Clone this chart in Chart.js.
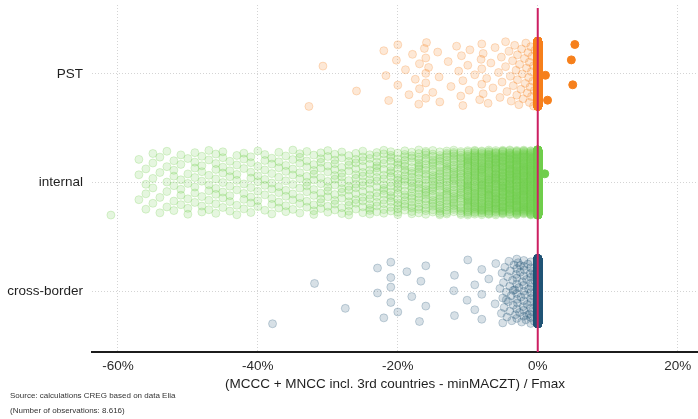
<!DOCTYPE html>
<html>
<head>
<meta charset="utf-8">
<script src="https://cdn.jsdelivr.net/npm/chart.js@4.4.1/dist/chart.umd.min.js"></script>
<style>
  body { margin: 0; background: #fff; }
  #wrap { position: relative; width: 698px; height: 419px; }
  #stripChart { display: block; }
  .note {
    position: absolute;
    left: 10px;
    font: 8px 'Liberation Sans', Arial, sans-serif;
    line-height: 10px;
    color: #333;
    white-space: nowrap;
  }
</style>
</head>
<body>
<div id="wrap">
  <canvas id="stripChart" width="698" height="419"></canvas>
  <div class="note" style="top:391px">Source: calculations CREG based on data Elia</div>
  <div class="note" id="obsCount" style="top:406px"></div>
</div>
<script>
// rows from bottom to top
const categories = ['cross-border', 'internal', 'PST'];
const xTicks = [-60, -40, -20, 0, 20];

// non-zero observations, in %
const pstValues = [
  -32.7, -30.7, -25.9, -22.0, -21.7, -21.3, -20.2, -20.0, -20.0, -18.9,
  -18.4, -17.9, -17.5, -17.0, -16.9, -16.9, -16.2, -16.0, -16.0, -16.0,
  -16.0, -15.9, -15.6, -15.0, -14.3, -14.1, -14.0, -12.8, -12.4, -11.6,
  -11.3, -11.0, -10.9, -10.7, -10.7, -10.0, -9.8, -9.7, -9.0, -8.3,
  -8.1, -8.0, -8.0, -8.0, -7.8, -7.8, -7.3, -7.1, -6.7, -6.4,
  -6.1, -5.6, -5.4, -5.2, -5.1, -4.6, -4.6, -4.4, -4.1, -3.9,
  -3.8, -3.6, -3.5, -3.3, -3.1, -3.0, -2.9, -2.9, -2.7, -2.6,
  -2.4, -2.3, -2.2, -2.1, -1.9, -1.8, -1.7, -1.6, -1.5, -1.4,
  -1.3, -1.2, -1.2, -1.1, -1.0, -0.9, -0.9, -0.8, -0.7, -0.6,
  -0.6, -0.5, -0.4,
  1.1, 1.4, 4.8, 5.0, 5.3
];

const crossBorderValues = [
  -37.9, -31.9, -27.5, -22.9, -22.9, -22.0, -21.0, -21.0, -21.0, -21.0,
  -20.0, -18.7, -18.0, -16.9, -16.7, -16.0, -16.0, -12.0, -11.9, -11.9,
  -10.1, -10.0, -9.0, -9.0, -8.0, -8.0, -8.0, -7.0, -6.1, -6.0,
  -5.4, -5.2, -5.1, -5.0, -5.0, -4.9, -4.8, -4.7, -4.5, -4.4,
  -4.3, -4.2, -4.1, -4.0, -4.0, -3.9, -3.8, -3.7, -3.6, -3.5,
  -3.4, -3.3, -3.2, -3.1, -3.0, -3.0, -3.0, -3.0, -3.0, -3.0,
  -3.0, -3.0, -2.9, -2.8, -2.7, -2.6, -2.5, -2.4, -2.3, -2.2,
  -2.1, -2.0, -2.0, -2.0, -2.0, -2.0, -2.0, -2.0, -2.0, -1.9,
  -1.8, -1.7, -1.6, -1.5, -1.4, -1.3, -1.2, -1.1, -1.0, -1.0,
  -1.0, -1.0, -1.0, -1.0, -1.0, -1.0, -1.0, -1.0, -0.9, -0.8,
  -0.7, -0.6, -0.5, -0.4, -0.3, -2.5, -3.5, -1.5, -0.5, -4.5
];

// internal elements: values come in whole percent, so kept as a frequency table
const internalLevels = [
  -61,
  -57, -56, -55, -54, -53, -52, -51, -50, -49, -48, -47, -46, -45, -44, -43, -42, -41,
  -40, -39, -38, -37, -36, -35, -34, -33, -32, -31, -30, -29, -28, -27, -26, -25, -24, -23, -22, -21,
  -20, -19, -18, -17, -16, -15, -14, -13, -12, -11,
  -10, -9, -8, -7, -6, -5, -4, -3, -2, -1,
  1
];
const internalCounts = [
  1,
  3, 4, 5, 4, 5, 6, 6, 6, 7, 7, 7, 8, 8, 7, 7, 7, 8,
  7, 7, 8, 8, 8, 8, 9, 9, 10, 10, 10, 11, 11, 12, 12, 13, 14, 14, 15, 16,
  18, 19, 20, 22, 23, 25, 27, 29, 31, 33,
  50, 54, 58, 62, 66, 70, 75, 80, 85, 90,
  1
];

// hours with exactly 0 %, same order as categories
const zeroCounts = [2762, 1616, 2774];

const FONT = "'Liberation Sans', Arial, sans-serif";
const palette = {
  'cross-border': [33, 84, 118],
  'internal': [112, 206, 76],
  'PST': [246, 128, 28]
};

function rgba(c, a) {
  return 'rgba(' + c[0] + ', ' + c[1] + ', ' + c[2] + ', ' + a + ')';
}

// spread points vertically inside their row (deterministic, like a jitter)
function jitter(k) {
  return ((k * 0.6180339887) % 1 - 0.5) * 0.6;
}

const observations = {
  'cross-border': crossBorderValues,
  'internal': internalLevels.flatMap((v, i) => Array(internalCounts[i]).fill(v)),
  'PST': pstValues
};

const datasets = [];
let total = 0;
categories.forEach((cat, ci) => {
  const values = observations[cat].concat(Array(zeroCounts[ci]).fill(0));
  total += values.length;
  const below = [], atOrAbove = [];
  values.forEach((v, k) => {
    const pt = { x: v, y: ci + 1 + jitter(k) };
    (v < 0 ? below : atOrAbove).push(pt);
  });
  const c = palette[cat];
  datasets.push({
    label: cat,
    data: below,
    pointRadius: 4,
    pointBorderWidth: 1,
    pointBackgroundColor: rgba(c, 0.18),
    pointBorderColor: rgba(c, 0.24)
  });
  datasets.push({
    label: cat + ' >= 0',
    data: atOrAbove,
    pointRadius: 4,
    pointBorderWidth: 1,
    pointBackgroundColor: rgba(c, 1),
    pointBorderColor: rgba(c, 1)
  });
});

document.getElementById('obsCount').textContent =
  '(Number of observations: ' + String(total).replace(/\B(?=(\d{3})+(?!\d))/g, '.') + ')';

// vertical reference line at 0 %
const zeroLine = {
  id: 'zeroLine',
  afterDatasetsDraw(chart) {
    const { ctx, chartArea, scales } = chart;
    const px = scales.x.getPixelForValue(0);
    ctx.save();
    ctx.strokeStyle = '#cc1f62';
    ctx.lineWidth = 2;
    ctx.beginPath();
    ctx.moveTo(px, chartArea.top + 3);
    ctx.lineTo(px, chartArea.bottom);
    ctx.stroke();
    ctx.restore();
  }
};

new Chart(document.getElementById('stripChart'), {
  type: 'scatter',
  data: { datasets: datasets },
  options: {
    responsive: false,
    animation: false,
    devicePixelRatio: 1,
    events: [],
    layout: { autoPadding: false, padding: { top: 5, right: 0, bottom: 0, left: 0 } },
    plugins: {
      legend: { display: false },
      tooltip: { enabled: false }
    },
    scales: {
      x: {
        type: 'linear',
        min: -63.7,
        max: 22.9,
        afterBuildTicks: function(scale) {
          scale.ticks = xTicks.map(v => ({ value: v }));
        },
        afterFit: function(scale) {
          scale.height = 67;
          scale.paddingLeft = 0;
          scale.paddingRight = 0;
        },
        grid: { color: '#d4d4d4', lineWidth: 1, drawTicks: false, borderDash: [1, 2] },
        border: { display: true, color: '#1c1c1c', width: 2, dash: [1, 2] },
        ticks: {
          padding: 6,
          color: '#2b2b2b',
          font: { family: FONT, size: 13.5 },
          callback: function(value) { return value + '%'; }
        },
        title: {
          display: true,
          text: '(MCCC + MNCC incl. 3rd countries - minMACZT) / Fmax',
          color: '#1f1f1f',
          font: { family: FONT, size: 13.5 },
          padding: { top: 0, bottom: 27 }
        }
      },
      y: {
        type: 'linear',
        min: 0.44,
        max: 3.633,
        afterBuildTicks: function(scale) {
          scale.ticks = categories.map((c, i) => ({ value: i + 1 }));
        },
        afterFit: function(scale) {
          scale.width = 92;
          scale.paddingTop = 0;
          scale.paddingBottom = 0;
        },
        grid: { color: '#d4d4d4', lineWidth: 1, drawTicks: false, borderDash: [1, 2] },
        border: { display: false, dash: [1, 2] },
        ticks: {
          padding: 9,
          color: '#1f1f1f',
          font: { family: FONT, size: 13.5 },
          callback: function(value) { return categories[value - 1]; }
        }
      }
    }
  },
  plugins: [zeroLine]
});
</script>
</body>
</html>
